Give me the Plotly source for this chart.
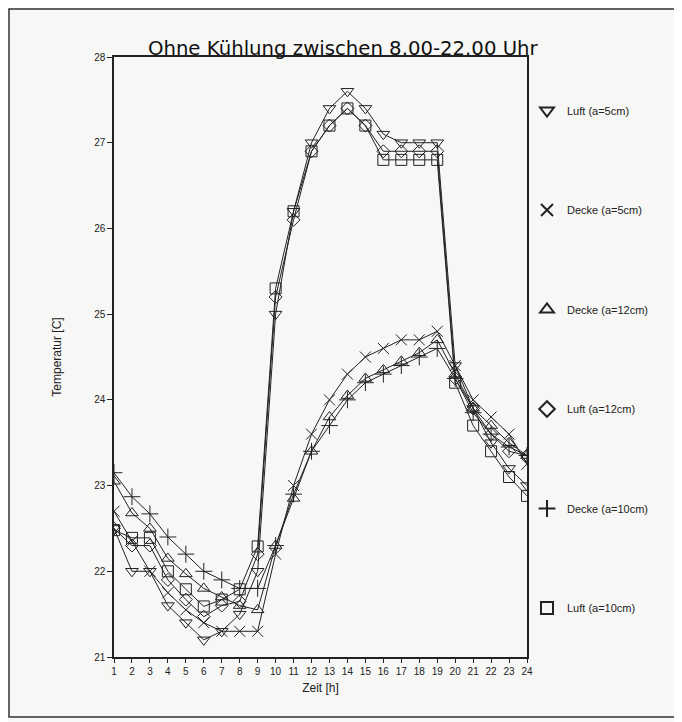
import plotly.graph_objects as go

hours = list(range(1, 25))

luft_5 = [22.5, 22.0, 22.0, 21.6, 21.4, 21.2, 21.3, 21.5, 22.0, 25.0, 26.2, 27.0,
          27.4, 27.6, 27.4, 27.1, 27.0, 27.0, 27.0, 24.4, 23.9, 23.5, 23.2, 23.0]
decke_5 = [22.7, 22.35, 22.0, 21.75, 21.55, 21.4, 21.3, 21.3, 21.3, 22.2, 23.0, 23.6,
           24.0, 24.3, 24.5, 24.6, 24.7, 24.7, 24.8, 24.4, 24.0, 23.8, 23.6, 23.25]
decke_12 = [23.05, 22.68, 22.5, 22.15, 21.97, 21.8, 21.7, 21.6, 21.55, 22.3, 22.85, 23.4,
            23.8, 24.05, 24.25, 24.35, 24.45, 24.55, 24.7, 24.3, 23.9, 23.7, 23.5, 23.35]
luft_12 = [22.5, 22.3, 22.3, 21.9, 21.67, 21.47, 21.6, 21.65, 22.2, 25.2, 26.1, 26.9,
           27.2, 27.4, 27.2, 26.9, 26.9, 26.9, 26.9, 24.25, 23.9, 23.6, 23.4, 23.35]
decke_10 = [23.15, 22.87, 22.67, 22.4, 22.2, 22.0, 21.9, 21.8, 21.8, 22.3, 22.9, 23.4,
            23.7, 24.0, 24.2, 24.3, 24.4, 24.5, 24.6, 24.25, 23.85, 23.6, 23.45, 23.35]
luft_10 = [22.48, 22.39, 22.39, 22.0, 21.79, 21.59, 21.67, 21.79, 22.29, 25.3, 26.2, 26.9,
           27.2, 27.4, 27.2, 26.8, 26.8, 26.8, 26.8, 24.2, 23.7, 23.4, 23.1, 22.88]

series_names = ["Luft (a=5cm)", "Decke (a=5cm)", "Decke (a=12cm)",
                "Luft (a=12cm)", "Decke (a=10cm)", "Luft (a=10cm)"]
series_values = [luft_5, decke_5, decke_12, luft_12, decke_10, luft_10]
symbols = ["triangle-down-open", "x-thin-open", "triangle-up-open",
           "diamond-open", "cross-thin-open", "square-open"]
sizes = [11, 11, 11, 10, 12, 11]

fig = go.Figure()
for name, vals, sym, sz in zip(series_names, series_values, symbols, sizes):
    fig.add_trace(go.Scatter(
        x=hours, y=vals, mode="lines+markers", name=name, showlegend=False,
        line=dict(color="#222222", width=1),
        marker=dict(symbol=sym, size=sz, color="#222222",
                    line=dict(color="#222222", width=1)),
    ))
for i, (name, sym, sz) in enumerate(zip(series_names, symbols, sizes)):
    fig.add_trace(go.Scatter(
        x=[None], y=[None], mode="markers", name=name, legendgroup=str(i),
        marker=dict(symbol=sym, size=sz, color="#222222",
                    line=dict(color="#222222", width=1)),
    ))

fig.update_layout(
    width=682, height=722,
    margin=dict(l=106, r=163, t=49, b=73),
    paper_bgcolor="#f7f7f5", plot_bgcolor="#f7f7f5",
    font=dict(family="Liberation Sans, Arial, sans-serif", color="#222222"),
    title=dict(text="Ohne Kühlung zwischen 8.00-22.00 Uhr", x=0.554, xanchor="center",
               y=0.945, yanchor="middle", xref="paper",
               font=dict(size=19.7, family="DejaVu Sans, sans-serif", color="#111111")),
    legend=dict(x=1.0, xanchor="left", y=0.935, yanchor="top", itemwidth=30,
                font=dict(size=11), tracegroupgap=80.5, itemsizing="constant",
                bgcolor="rgba(0,0,0,0)"),
    xaxis=dict(range=[1, 24], tickmode="array", tickvals=hours,
               ticks="outside", ticklen=4, tickcolor="#222222",
               showline=True, linecolor="#222222", linewidth=1.5, mirror=True,
               showgrid=False, zeroline=False, tickfont=dict(size=10),
               title=dict(text="Zeit [h]", font=dict(size=12), standoff=8)),
    yaxis=dict(range=[21, 28], tickmode="array", tickvals=[21, 22, 23, 24, 25, 26, 27, 28],
               ticks="outside", ticklen=5, tickcolor="#222222",
               showline=True, linecolor="#222222", linewidth=1.5, mirror=True,
               showgrid=False, zeroline=False, tickfont=dict(size=10),
               title=dict(text="Temperatur [C]", font=dict(size=12), standoff=30)),
    shapes=[dict(type="rect", xref="paper", yref="paper",
                 x0=(1 - 106) / 413, x1=(668 - 106) / 413,
                 y0=(649 - 709) / 600, y1=(649 - 1) / 600,
                 line=dict(color="#333333", width=1.5), fillcolor="rgba(0,0,0,0)",
                 layer="below")],
)

fig.write_html("out.html")
